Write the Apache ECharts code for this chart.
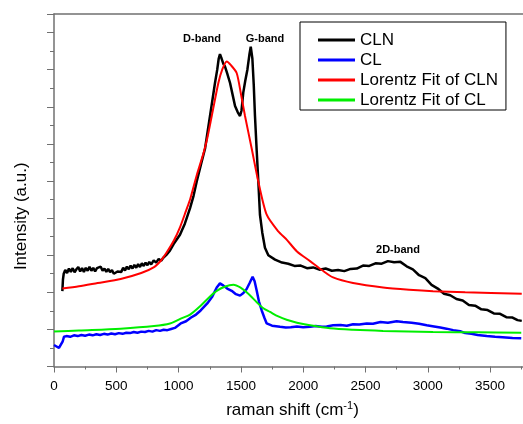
<!DOCTYPE html>
<html>
<head>
<meta charset="utf-8">
<script src="https://cdn.jsdelivr.net/npm/echarts@6/dist/echarts.min.js"></script>
<style>html,body{margin:0;padding:0;background:#fff}#c{width:523px;height:424px}</style>
</head>
<body>
<div id="c"></div>
<script>
var xTicks = [0, 500, 1000, 1500, 2000, 2500, 3000, 3500];

var clnX = [67,72,78,90,105,120,135,150,165,180,195,210,225,240,255,270,285,300,315,330,345,360,375,390,405,420,435,450,465,480,495,510,525,540,555,570,585,600,615,630,645,660,675,690,705,720,735,750,765,780,800,820,840,860,877,900,930,960,1011,1050,1092,1120,1145,1180,1212,1252,1292,1310,1322,1332,1345,1360,1372,1390,1413,1435,1453,1475,1493,1505,1519,1535,1552,1568,1579,1592,1603,1613,1627,1640,1653,1672,1693,1720,1774,1830,1880,1930,1980,2030,2080,2130,2180,2230,2280,2330,2380,2430,2480,2530,2580,2630,2680,2730,2780,2830,2880,2930,2980,3030,3080,3130,3180,3230,3280,3330,3380,3430,3480,3530,3580,3630,3680,3720,3754];
var clnY = [2.03,2.35,2.5,2.6,2.52,2.64,2.55,2.65,2.54,2.62,2.68,2.56,2.65,2.55,2.66,2.58,2.69,2.58,2.66,2.56,2.65,2.6,2.69,2.58,2.64,2.55,2.63,2.54,2.6,2.5,2.45,2.56,2.61,2.55,2.66,2.59,2.69,2.62,2.72,2.64,2.74,2.66,2.76,2.68,2.78,2.71,2.8,2.73,2.82,2.75,2.86,2.8,2.9,2.85,2.93,3.0,3.12,3.3,3.55,3.85,4.27,4.6,4.98,5.45,5.87,6.75,7.64,8.0,8.3,8.42,8.3,8.15,8.09,7.9,7.64,7.3,7.02,6.85,6.75,6.9,7.38,7.7,8.0,8.4,8.62,8.3,7.6,6.75,5.8,4.98,4.09,3.6,3.2,3.0,2.88,2.8,2.77,2.71,2.72,2.65,2.67,2.61,2.64,2.58,2.6,2.57,2.63,2.64,2.72,2.71,2.78,2.77,2.84,2.81,2.82,2.7,2.62,2.46,2.38,2.2,2.1,1.96,1.92,1.82,1.78,1.66,1.64,1.54,1.52,1.43,1.42,1.33,1.32,1.25,1.23,1.2];

var clX = [0,20,40,55,70,80,100,130,160,190,220,250,280,310,340,370,400,430,460,490,520,550,580,610,640,670,700,730,760,790,820,850,880,910,940,970,1017,1060,1100,1140,1177,1230,1268,1306,1320,1332,1345,1360,1390,1426,1460,1493,1520,1546,1570,1594,1610,1627,1645,1667,1690,1707,1750,1814,1860,1900,1950,2000,2055,2100,2150,2188,2240,2300,2350,2400,2450,2510,2560,2620,2680,2750,2800,2870,2930,2991,3050,3100,3150,3204,3260,3300,3350,3400,3473,3540,3600,3680,3750];
var clY = [0.58,0.54,0.5,0.52,0.68,0.8,0.82,0.8,0.84,0.82,0.85,0.83,0.86,0.84,0.87,0.85,0.88,0.86,0.89,0.87,0.9,0.88,0.91,0.9,0.93,0.91,0.94,0.93,0.96,0.94,0.98,0.96,0.99,0.98,1.01,1.04,1.16,1.22,1.32,1.4,1.51,1.7,1.87,2.13,2.18,2.24,2.2,2.18,2.1,2.04,1.95,1.91,1.98,2.09,2.25,2.42,2.3,2.04,1.75,1.51,1.3,1.16,1.1,1.07,1.05,1.06,1.08,1.06,1.07,1.09,1.07,1.08,1.11,1.12,1.1,1.14,1.13,1.16,1.15,1.2,1.18,1.22,1.2,1.18,1.15,1.11,1.08,1.05,1.02,0.98,0.95,0.9,0.88,0.85,0.82,0.8,0.79,0.77,0.76];

var fitClnX = [67,200,350,535,700,803,857,900,963,1011,1060,1092,1145,1200,1230,1266,1319,1350,1386,1420,1466,1500,1533,1587,1640,1707,1800,1867,1950,2055,2150,2240,2400,2641,2850,3042,3300,3754];
var fitClnY = [2.1,2.16,2.25,2.36,2.52,2.68,2.85,3.05,3.4,3.75,4.2,4.5,5.15,5.75,6.15,6.75,7.64,8.0,8.22,8.12,7.91,7.35,6.75,5.87,4.98,4.09,3.64,3.42,3.1,2.84,2.6,2.4,2.25,2.13,2.07,2.03,2.0,1.96];

var fitClX = [0,200,535,803,931,1017,1092,1177,1250,1306,1370,1440,1500,1546,1590,1627,1680,1734,1800,1867,1950,2055,2215,2400,2641,3042,3400,3750];
var fitClY = [0.94,0.97,1.02,1.09,1.16,1.29,1.4,1.64,1.88,2.04,2.15,2.2,2.12,2.0,1.86,1.73,1.57,1.47,1.35,1.26,1.18,1.11,1.03,0.99,0.96,0.93,0.92,0.91];

var seriesNames = ['CLN', 'CL', 'Lorentz Fit of CLN', 'Lorentz Fit of CL'];
var bandLabels = ['D-band', 'G-band', '2D-band'];
var bandX = [1188, 1693, 2761];
var bandY = [8.83, 8.83, 3.15];

function pairs(xs, ys) { return xs.map(function (x, i) { return [x, ys[i]]; }); }

var chart = echarts.init(document.getElementById('c'), null, {renderer: 'canvas'});
var font = 'Liberation Sans, Arial, sans-serif';
var axisGray = '#707070';

chart.setOption({
  animation: false,
  textStyle: {fontFamily: font},
  grid: {left: 54, top: 14, right: 0, bottom: 54, containLabel: false},
  legend: {
    orient: 'vertical', left: 300, top: 22,
    data: seriesNames,
    icon: 'rect',
    itemWidth: 37, itemHeight: 3, itemGap: 0,
    padding: [8, 8, 0, 18],
    borderColor: '#000', borderWidth: 1, backgroundColor: '#fff',
    textStyle: {fontSize: 17, lineHeight: 20, color: '#000', fontFamily: font}
  },
  xAxis: [{
    type: 'value', min: 0, max: 3764, interval: 500,
    name: '{a|raman shift (cm}{s|-1}{a|)}',
    nameLocation: 'middle', nameGap: 34,
    nameTextStyle: {padding: [0, 0, 0, 8], rich: {a: {fontSize: 17, color: '#000', fontFamily: font}, s: {fontSize: 11, color: '#000', fontFamily: font, verticalAlign: 'top', padding: [0, 0, 9, 0]}}},
    axisLine: {show: true, onZero: false, lineStyle: {color: axisGray, width: 1.5}},
    axisTick: {show: true, inside: false, length: 6, lineStyle: {color: axisGray}},
    minorTick: {show: true, splitNumber: 2, length: 3, lineStyle: {color: axisGray}},
    axisLabel: {fontSize: 13.5, color: '#000', margin: 13, showMaxLabel: false,
      formatter: function (v) { return String(v); }},
    splitLine: {show: false}
  }, {
    type: 'value', position: 'top', min: 0, max: 3764,
    axisLine: {show: true, onZero: false, lineStyle: {color: axisGray, width: 1.5}},
    axisTick: {show: false}, axisLabel: {show: false}, splitLine: {show: false}
  }],
  yAxis: {
    type: 'value', min: 0, max: 9.5, interval: 1,
    name: 'Intensity (a.u.)', nameLocation: 'middle', nameGap: 24,
    nameTextStyle: {fontSize: 17, color: '#000', fontFamily: font, padding: [0, 52, 0, 0]},
    axisLine: {show: true, onZero: false, lineStyle: {color: axisGray, width: 1.5}},
    axisTick: {show: true, inside: false, length: 7, lineStyle: {color: axisGray}},
    minorTick: {show: true, splitNumber: 2, length: 4, lineStyle: {color: axisGray}},
    axisLabel: {show: false},
    splitLine: {show: false}
  },
  series: [
    {name: seriesNames[0], type: 'line', data: pairs(clnX, clnY), symbol: 'none', z: 4,
     lineStyle: {color: '#000', width: 2.5}, itemStyle: {color: '#000'},
     markPoint: {symbol: 'circle', symbolSize: 1, itemStyle: {color: 'rgba(0,0,0,0)'},
       label: {show: true, position: 'inside', fontSize: 11, fontWeight: 'bold', color: '#000', fontFamily: font},
       data: bandLabels.map(function (t, i) { return {coord: [bandX[i], bandY[i]], value: t, label: {formatter: t}}; })}},
    {name: seriesNames[1], type: 'line', data: pairs(clX, clY), symbol: 'none', z: 3,
     lineStyle: {color: '#0000ff', width: 2.5}, itemStyle: {color: '#0000ff'}},
    {name: seriesNames[2], type: 'line', data: pairs(fitClnX, fitClnY), symbol: 'none', smooth: 0.25, z: 5,
     lineStyle: {color: '#ff0000', width: 2}, itemStyle: {color: '#ff0000'}},
    {name: seriesNames[3], type: 'line', data: pairs(fitClX, fitClY), symbol: 'none', smooth: 0.3, z: 5,
     lineStyle: {color: '#00ee00', width: 2}, itemStyle: {color: '#00ee00'}}
  ]
});
</script>
</body>
</html>
